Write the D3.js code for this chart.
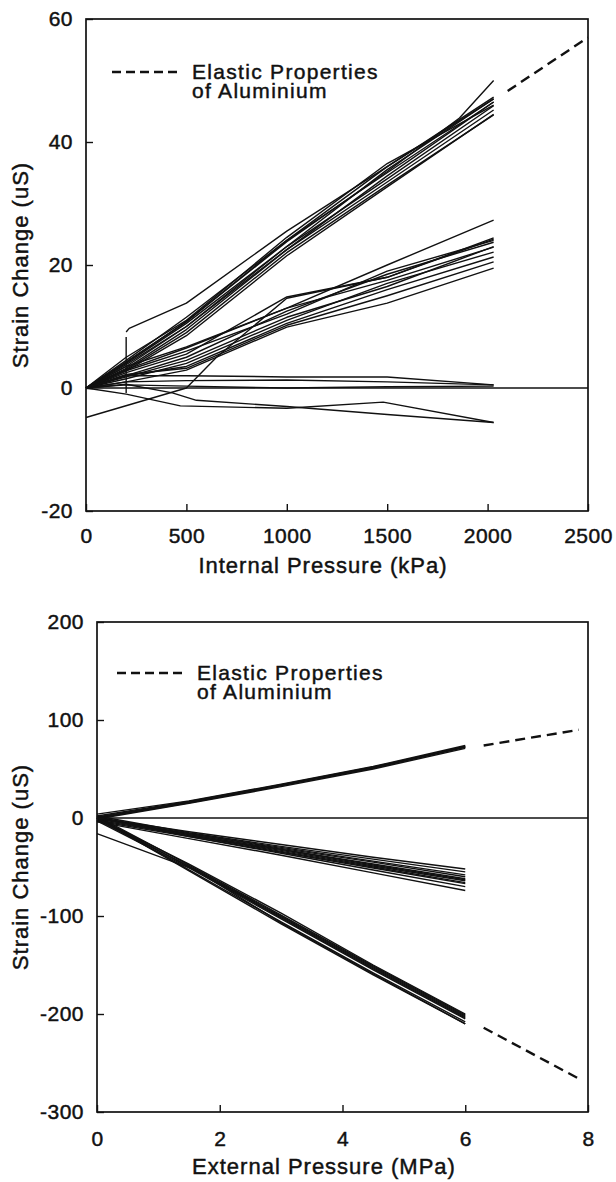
<!DOCTYPE html>
<html>
<head>
<meta charset="utf-8">
<script src="https://cdn.jsdelivr.net/npm/d3@7"></script>
<style>
  body { margin: 0; background: #fff; }
  text { font-family: "Liberation Sans", Arial, Helvetica, sans-serif; fill: #111; stroke: #111; stroke-width: 0.45px; }
</style>
</head>
<body>
<div id="chart"></div>
<script>
// ---- top panel: internal pressure (kPa) vs strain change (uS) ----
var internalP = [0, 200, 500, 1000, 1500, 2030];
var internalTicksX = [0, 500, 1000, 1500, 2000, 2500];
var internalTicksY = [-20, 0, 20, 40, 60];

// gauges in the steep band, values at internalP
var upperBand = [
  [0, 4.5, 11.5, 24.0, 35.0, 46.5],
  [0, 4.0, 10.5, 23.0, 34.0, 45.9],
  [0, 3.5, 10.0, 22.5, 33.5, 45.2],
  [0, 3.0, 9.0, 22.0, 33.0, 44.4],
  [0, 3.8, 10.0, 23.0, 35.5, 47.0],
  [0, 4.2, 10.8, 24.0, 36.0, 47.3],
  [0, 3.2, 9.5, 22.5, 34.5, 46.5],
  [0, 2.8, 8.5, 21.5, 32.7, 44.5],
  [0, 5.0, 11.0, 24.5, 36.5, 46.0]
];
// gauges in the middle band, values at internalP
var middleBand = [
  [0, 3.0, 6.5, 13.0, 20.0, 27.3],
  [0, 2.5, 5.5, 14.8, 18.0, 24.4],
  [0, 2.0, 5.0, 12.5, 18.5, 23.7],
  [0, 3.5, 6.7, 13.0, 17.5, 22.9],
  [0, 1.5, 4.0, 11.0, 17.0, 22.1],
  [0, 2.0, 3.5, 10.5, 16.0, 21.3],
  [0, 1.0, 2.9, 9.9, 13.8, 19.5],
  [0, 2.8, 6.0, 12.0, 19.0, 24.0],
  [0, 1.8, 4.5, 11.5, 16.5, 23.0],
  [0, 2.2, 3.2, 10.2, 15.0, 20.5]
];
// near-zero gauges, values at internalP
var flatLines = [
  [0, 2.0, 2.0, 1.8, 1.8, 0.5],
  [0, 1.0, 1.2, 1.3, 1.0, 0.5],
  [0, 0.5, 0.3, 0.0, 0.2, 0.3]
];
// irregular ones, [kPa, uS]
var oddInternal = [
  [[200, 9.1], [215, 9.7], [500, 13.8], [1000, 25.5], [1500, 36.0], [2030, 47.0]],
  [[0, 0], [200, 4.2], [500, 10.8], [1000, 23.8], [1500, 35.2], [1860, 43.9], [2030, 50.0]],
  [[0, -4.8], [500, 0], [650, 5.0], [1000, 14.6], [1500, 18.0], [2030, 24.2]],
  [[0, 0], [200, -1.0], [470, -2.9], [1000, -3.3], [1480, -2.3], [2030, -5.6]],
  [[0, 0], [200, 0.6], [430, -0.8], [550, -2.0], [1000, -3.0], [1500, -4.3], [2030, -5.6]],
  [[200, -0.8], [200, 8.3]]
];
var elasticInternal = [[2100, 48.3], [2500, 57.0]];
var zeroInternal = [[0, 0], [2500, 0]];

// ---- bottom panel: external pressure (MPa) ----
var externalP = [0, 1.5, 3, 4.5, 6];
var externalTicksX = [0, 2, 4, 6, 8];
var externalTicksY = [-300, -200, -100, 0, 100, 200];

var posBand = [
  [0, 16, 33, 51, 72],
  [2, 17, 34, 52, 73],
  [-1, 15, 32, 50, 71],
  [4, 17.5, 34.5, 52.5, 74],
  [0, 15.5, 33, 51.5, 72.5],
  [1, 16.5, 33.5, 51, 73]
];
var midBand = [
  [0, -14, -27, -40, -52],
  [2, -15, -29, -42, -55],
  [0, -16, -30, -44, -58],
  [-1, -16, -31, -45, -60],
  [1, -17, -32, -47, -62],
  [0, -17, -32, -48, -63],
  [-2, -18, -33, -49, -64],
  [0, -18, -34, -50, -66],
  [-3, -19, -35, -51, -67],
  [0, -19, -36, -53, -70],
  [-4, -21, -38, -56, -74]
];
var lowBand = [
  [0, -47, -97, -150, -200],
  [2, -48, -99, -151, -201],
  [-2, -49, -100, -152, -202],
  [0, -50, -101, -153, -203],
  [1, -50, -102, -154, -204],
  [-3, -51, -103, -155, -205],
  [0, -53, -106, -158, -208],
  [0, -54, -108, -160, -210]
];
var oddExternal = [
  [[0, -16], [1.3, -46], [1.6, -53], [3, -107], [4.5, -159], [6, -210]]
];
var elasticExternal = [
  [[6.3, 74], [7.85, 90]],
  [[6.3, -214], [7.85, -266]]
];
var zeroExternal = [[0, 0], [8, 0]];

var legendText = ["Elastic Properties", "of Aluminium"];

var svg = d3.select("#chart").append("svg")
  .attr("width", 616)
  .attr("height", 1182);

// turn rows of y-values into [x,y] pairs
function pairs(xs, rows) {
  return rows.map(function (r) { return r.map(function (v, i) { return [xs[i], v]; }); });
}

function drawPanel(p) {
  var x = d3.scaleLinear().domain(p.xDomain).range([p.left, p.right]);
  var y = d3.scaleLinear().domain(p.yDomain).range([p.bottom, p.top]);
  var line = d3.line().x(function (d) { return x(d[0]); }).y(function (d) { return y(d[1]); });

  // 1. data lines
  svg.append("g").selectAll("path").data(p.series)
    .enter().append("path")
    .attr("d", line)
    .attr("fill", "none")
    .attr("stroke", "#111")
    .attr("stroke-width", 1.4)
    .attr("stroke-linejoin", "round");

  // 2. zero line
  svg.append("path").attr("d", line(p.zero))
    .attr("fill", "none").attr("stroke", "#111").attr("stroke-width", 1.3);

  // 3. elastic (dashed)
  svg.append("g").selectAll("path").data(p.elastic)
    .enter().append("path")
    .attr("d", line)
    .attr("fill", "none")
    .attr("stroke", "#111")
    .attr("stroke-width", 2.4)
    .attr("stroke-dasharray", "10,6");

  // 4. axes + frame
  var fmt = function (d) { return String(d); };
  var xAxis = d3.axisBottom(x).tickValues(p.xTicks).tickFormat(fmt).tickSize(-7).tickPadding(p.xPad);
  var yAxis = d3.axisLeft(y).tickValues(p.yTicks).tickFormat(fmt).tickSize(-7).tickPadding(13);
  var gx = svg.append("g").attr("transform", "translate(0," + p.bottom + ")").call(xAxis);
  var gy = svg.append("g").attr("transform", "translate(" + p.left + ",0)").call(yAxis);
  [gx, gy].forEach(function (g) {
    g.select(".domain").remove();
    g.selectAll("line").attr("stroke", "#111").attr("stroke-width", 1.4);
    g.selectAll("text")
      .attr("fill", "#111")
      .style("font-family", "'Liberation Sans', Arial, sans-serif")
      .style("font-size", "21px")
      .style("letter-spacing", "0.5px");
  });
  svg.append("rect")
    .attr("x", p.left).attr("y", p.top)
    .attr("width", p.right - p.left).attr("height", p.bottom - p.top)
    .attr("fill", "none").attr("stroke", "#111").attr("stroke-width", 1.7);

  // 5. legend
  var lx = p.left + p.legendDx, ly = p.top + p.legendDy;
  svg.append("line")
    .attr("x1", lx).attr("x2", lx + 68).attr("y1", ly).attr("y2", ly)
    .attr("stroke", "#111").attr("stroke-width", 2.4).attr("stroke-dasharray", "9,5");
  svg.append("g").selectAll("text").data(legendText)
    .enter().append("text")
    .attr("x", lx + 80)
    .attr("y", function (d, i) { return ly + 7 + i * 19; })
    .style("font-size", "21px")
    .style("letter-spacing", "1.3px")
    .text(function (d) { return d; });

  // 6. axis titles
  svg.append("text")
    .attr("x", p.titleX).attr("y", p.bottom + 62)
    .attr("text-anchor", "middle")
    .style("font-size", "22px")
    .style("letter-spacing", "1px")
    .text(p.xTitle);
  svg.append("text")
    .attr("transform", "translate(28," + (p.top + p.bottom) / 2 + ")rotate(-90)")
    .attr("text-anchor", "middle")
    .style("font-size", "22px")
    .style("letter-spacing", "1px")
    .text("Strain Change (uS)");
}

drawPanel({
  left: 86, right: 588, top: 19, bottom: 511,
  xDomain: [0, 2500], yDomain: [-20, 60],
  xTicks: internalTicksX, yTicks: internalTicksY, xPad: 17,
  series: pairs(internalP, upperBand.concat(middleBand, flatLines)).concat(oddInternal),
  zero: zeroInternal,
  elastic: [elasticInternal],
  legendDx: 26, legendDy: 53,
  titleX: 323,
  xTitle: "Internal Pressure (kPa)"
});

drawPanel({
  left: 97, right: 588, top: 622, bottom: 1112,
  xDomain: [0, 8], yDomain: [-300, 200],
  xTicks: externalTicksX, yTicks: externalTicksY, xPad: 19,
  series: pairs(externalP, posBand.concat(midBand, lowBand)).concat(oddExternal),
  zero: zeroExternal,
  elastic: elasticExternal,
  legendDx: 20, legendDy: 51,
  titleX: 324,
  xTitle: "External Pressure (MPa)"
});
</script>
</body>
</html>
